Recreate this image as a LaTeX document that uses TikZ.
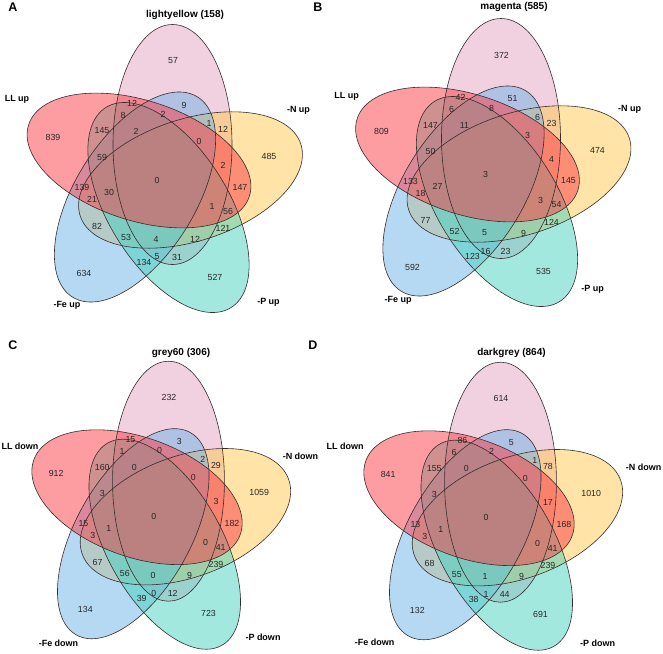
\documentclass[tikz,border=0pt]{standalone}
\usepackage{fontspec}
\setmainfont{Liberation Sans}
\definecolor{cpink}{RGB}{229,165,195}
\definecolor{cred}{RGB}{252,58,68}
\definecolor{cyellow}{RGB}{255,200,80}
\definecolor{cblue}{RGB}{110,180,232}
\definecolor{cgreen}{RGB}{70,210,190}
\definecolor{olcol}{RGB}{55,45,45}
\tikzset{
  num/.style={font=\fontsize{8.8}{10}\selectfont, text=black!85, inner sep=0pt},
  setlab/.style={font=\bfseries\fontsize{9}{10}\selectfont, inner sep=0pt},
  ttl/.style={font=\bfseries\fontsize{10}{12}\selectfont, inner sep=0pt},
  plet/.style={font=\bfseries\fontsize{12.5}{14}\selectfont, inner sep=0pt},
  outl/.style={draw=olcol, line width=0.6pt},
}
\newcommand\ellpink[1]{\path[#1, rotate around={90:(11.5,33.5)}] (11.5,33.5) ellipse [x radius=120, y radius=59.5];}
\newcommand\ellyellow[1]{\path[#1, rotate around={18:(29.5,-2)}] (29.5,-2) ellipse [x radius=116, y radius=61];}
\newcommand\ellgreen[1]{\path[#1, rotate around={122:(7.5,-29.5)}] (7.5,-29.5) ellipse [x radius=118, y radius=60];}
\newcommand\ellblue[1]{\path[#1, rotate around={58:(-26,-19)}] (-26,-19) ellipse [x radius=118, y radius=60];}
\newcommand\ellred[1]{\path[#1, rotate around={162:(-22,17.5)}] (-22,17.5) ellipse [x radius=116, y radius=60];}
\newcommand\vennshapes{%
  \ellpink{fill=cpink, fill opacity=.5}
  \ellyellow{fill=cyellow, fill opacity=.5}
  \ellblue{fill=cblue, fill opacity=.5}
  \ellgreen{fill=cgreen, fill opacity=.5}
  \ellred{fill=cred, fill opacity=.5}
  \ellpink{outl}\ellblue{outl}\ellgreen{outl}\ellyellow{outl}\ellred{outl}%
}
\newcommand\regionpts{%
  \coordinate (r1) at (12,117);   \coordinate (r2) at (-108,41);
  \coordinate (r3) at (108,22);   \coordinate (r4) at (-77,-95);
  \coordinate (r5) at (54,-99);   \coordinate (r6) at (-29,75);
  \coordinate (r7) at (23,73);    \coordinate (r8) at (-38,63);
  \coordinate (r9) at (2,64);     \coordinate (r10) at (48,55);
  \coordinate (r11) at (62,49);   \coordinate (r12) at (-59,47);
  \coordinate (r13) at (-25,47);  \coordinate (r14) at (38,37);
  \coordinate (r15) at (-59,21);  \coordinate (r16) at (62,13);
  \coordinate (r17) at (-4,-2);   \coordinate (r18) at (-79,-9);
  \coordinate (r19) at (-52,-14); \coordinate (r20) at (79,-9);
  \coordinate (r21) at (-69,-21); \coordinate (r22) at (51,-28);
  \coordinate (r23) at (67,-33);  \coordinate (r24) at (-64,-48);
  \coordinate (r25) at (62,-50);  \coordinate (r26) at (-35,-59);
  \coordinate (r27) at (-5,-61);  \coordinate (r28) at (34,-61);
  \coordinate (r29) at (-4,-79);  \coordinate (r30) at (16,-79);
  \coordinate (r31) at (-17,-84);%
}
\newcommand\placenums[2]{\foreach \v [count=\i] in {#2} {\node[num] (#1n\i) at (r\i) {\v};}}
\begin{document}
\begin{tikzpicture}[x=1pt,y=1pt]
\useasboundingbox (0,0) rectangle (663,-653);
\fill[white] (0,0) rectangle (663,-653);
% Panel A
\begin{scope}[shift={(161,-178)}]
  \vennshapes \regionpts
  \placenums{a}{57,839,485,634,527,12,9,8,2,1,12,145,2,0,59,2,0,139,30,147,21,1,56,82,121,53,4,12,5,31,134}
\end{scope}
% Panel B
\begin{scope}[shift={(489.5,-172)}]
  \vennshapes \regionpts
  \placenums{b}{372,809,474,592,535,42,51,6,8,6,23,147,11,3,50,4,3,133,27,145,18,3,54,77,124,52,5,9,16,23,123}
\end{scope}
% Panel C
\begin{scope}[shift={(157.7,-514.7)}, xscale=0.94]
  \vennshapes \regionpts
  \placenums{c}{232,912,1059,134,723,15,3,1,0,2,29,160,0,0,3,3,0,15,1,182,3,0,41,67,239,56,0,9,0,12,39}
\end{scope}
% Panel D
\begin{scope}[shift={(489.7,-515.7)}, xscale=0.94]
  \vennshapes \regionpts
  \placenums{d}{614,841,1010,132,691,86,5,6,2,1,78,155,0,0,3,17,0,13,1,168,3,0,41,68,239,55,1,9,1,44,38}
\end{scope}
% Labels A
\node[plet] (pa) at (13,-7) {A};
\node[ttl] (ta) at (185,-15) {lightyellow (158)};
\node[setlab] (a1) at (17,-99) {LL up};
\node[setlab] (a2) at (298.5,-110) {-N up};
\node[setlab] (a3) at (67,-305) {-Fe up};
\node[setlab] (a4) at (268.5,-302) {-P up};
% Labels B
\node[plet] (pb) at (318,-7) {B};
\node[ttl] (tb) at (514,-7.3) {magenta (585)};
\node[setlab] (b1) at (346.5,-96.7) {LL up};
\node[setlab] (b2) at (629.5,-109.3) {-N up};
\node[setlab] (b3) at (398,-300.7) {-Fe up};
\node[setlab] (b4) at (592.5,-289) {-P up};
% Labels C
\node[plet] (pc) at (13,-345) {C};
\node[ttl] (tc) at (181,-353.3) {grey60 (306)};
\node[setlab] (c1) at (20,-446) {LL down};
\node[setlab] (c2) at (300.5,-456) {-N down};
\node[setlab] (c3) at (58.5,-643.3) {-Fe down};
\node[setlab] (c4) at (263,-637.3) {-P down};
% Labels D
\node[plet] (pd) at (313,-345) {D};
\node[ttl] (td) at (511.5,-353.3) {darkgrey (864)};
\node[setlab] (d1) at (345,-446) {LL down};
\node[setlab] (d2) at (643.5,-467.3) {-N down};
\node[setlab] (d3) at (374.5,-642.7) {-Fe down};
\node[setlab] (d4) at (597.5,-643.3) {-P down};
\end{tikzpicture}
\end{document}
